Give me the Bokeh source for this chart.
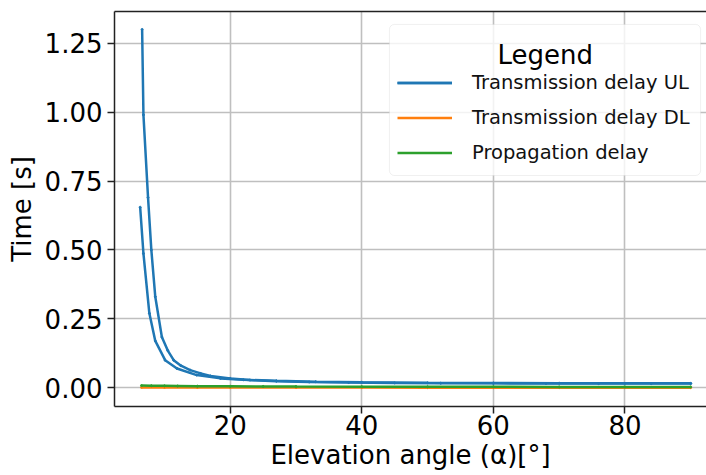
from bokeh.plotting import figure
from bokeh.models import (Range1d, FixedTicker, LinearAxis, Label, Legend,
                          LegendItem, NumeralTickFormatter, BoxAnnotation)
from bokeh.embed import file_html
from bokeh.resources import INLINE

# ---- data ----
ul_x_a = [6.6, 6.8, 7.5, 8.0, 8.6, 9.6, 10.5, 11.4, 12.5, 13.9, 15.5, 17.0, 20.0,
          23.0, 27.0, 32.0, 38.0, 45.0, 52.0, 60.0, 68.0, 76.0, 84.0, 90.0]
ul_y_a = [1.30, 0.99, 0.69, 0.50, 0.33, 0.184, 0.135, 0.10, 0.080, 0.064, 0.052,
          0.043, 0.034, 0.028, 0.024, 0.021, 0.019, 0.0175, 0.0165, 0.016, 0.0155,
          0.015, 0.015, 0.015]
ul_x_b = [6.3, 6.8, 7.7, 8.6, 10.1, 11.9, 14.9, 18.5, 22.0, 27.0, 33.0, 40.0,
          50.0, 60.0, 70.0, 80.0, 90.0]
ul_y_b = [0.655, 0.487, 0.27, 0.17, 0.10, 0.07, 0.046, 0.034, 0.029, 0.025, 0.022,
          0.020, 0.018, 0.017, 0.0165, 0.016, 0.016]
dl_x = [6.5, 10.0, 15.0, 20.0, 30.0, 40.0, 50.0, 60.0, 70.0, 80.0, 90.0]
dl_y = [0.0012, 0.001, 0.0008, 0.0007, 0.0006, 0.0005, 0.0004, 0.0004, 0.0003,
        0.0003, 0.0003]
pr_x = [6.5, 8.0, 10.0, 12.0, 15.0, 20.0, 25.0, 30.0, 40.0, 50.0, 60.0, 70.0,
        80.0, 90.0]
pr_y = [0.0078, 0.0074, 0.0069, 0.0064, 0.0058, 0.0052, 0.0047, 0.0043, 0.0038,
        0.0035, 0.0033, 0.0031, 0.0030, 0.0030]
x_ticks = [20, 40, 60, 80]
y_ticks = [0.0, 0.25, 0.5, 0.75, 1.0, 1.25]
series_labels = ["Transmission delay UL", "Transmission delay DL", "Propagation delay"]
legend_title = "Legend"

BLUE, ORANGE, GREEN = "#1f77b4", "#ff7f0e", "#2ca02c"
FONT = "DejaVu Sans"

p = figure(width=706, height=475, output_backend="svg", toolbar_location=None,
           x_range=Range1d(2.4, 92.4), y_range=Range1d(-0.068, 1.365),
           min_border_left=114, min_border_right=0, min_border_top=11,
           min_border_bottom=69)
p.outline_line_color = None
p.background_fill_color = "white"

lw = 2.5
r_a = p.line(ul_x_a, ul_y_a, line_color=BLUE, line_width=lw)
r_b = p.line(ul_x_b, ul_y_b, line_color=BLUE, line_width=lw)
p.scatter(ul_x_a, ul_y_a, size=2, color=BLUE)
p.scatter(ul_x_b, ul_y_b, size=2, color=BLUE)
r_dl = p.line(dl_x, dl_y, line_color=ORANGE, line_width=lw)
p.scatter(dl_x, dl_y, size=2, color=ORANGE)
r_pr = p.line(pr_x, pr_y, line_color=GREEN, line_width=lw)
p.scatter(pr_x, pr_y, size=2, color=GREEN)

# axes
for ax in (p.xaxis[0], p.yaxis[0]):
    ax.axis_line_color = "#222222"
    ax.axis_line_width = 1.5
    ax.major_tick_line_color = "#222222"
    ax.major_tick_line_width = 1.5
    ax.major_tick_out = 7
    ax.major_tick_in = 0
    ax.minor_tick_line_color = None
    ax.major_label_text_font = FONT
    ax.major_label_text_font_size = "26px"
    ax.major_label_text_color = "black"
    ax.axis_label_text_font = FONT
    ax.axis_label_text_font_size = "26px"
    ax.axis_label_text_font_style = "normal"
    ax.axis_label_text_color = "black"

p.xaxis[0].ticker = FixedTicker(ticks=x_ticks)
p.xaxis[0].axis_label = "Elevation angle (α)[°]"
p.xaxis[0].major_label_standoff = 1
p.xaxis[0].axis_label_standoff = 2

p.yaxis[0].ticker = FixedTicker(ticks=y_ticks)
p.yaxis[0].formatter = NumeralTickFormatter(format="0.00")
p.yaxis[0].axis_label = "Time [s]"
p.yaxis[0].major_label_standoff = 5
p.yaxis[0].axis_label_standoff = 5

top = LinearAxis(ticker=FixedTicker(ticks=[]), major_label_text_font_size="0px",
                 major_tick_line_color=None, minor_tick_line_color=None,
                 axis_line_color="#222222", axis_line_width=1.5)
p.add_layout(top, "above")

for g in (p.xgrid[0], p.ygrid[0]):
    g.grid_line_color = "#bfbfbf"
    g.grid_line_width = 1.6
p.xgrid[0].ticker = FixedTicker(ticks=x_ticks)
p.ygrid[0].ticker = FixedTicker(ticks=y_ticks)

# legend frame (drawn as a box so the centred title can sit on top of it)
p.add_layout(BoxAnnotation(left=44.2, right=91.5, top=1.318, bottom=0.770,
                           fill_color="white", fill_alpha=0.8,
                           line_color="#cccccc", line_width=1,
                           border_radius=5))

legend = Legend(items=[
    LegendItem(label=series_labels[0], renderers=[r_a, r_b]),
    LegendItem(label=series_labels[1], renderers=[r_dl]),
    LegendItem(label=series_labels[2], renderers=[r_pr]),
], location=(283, 242))
legend.title = " "
legend.title_text_font_size = "26px"
legend.title_text_font = FONT
legend.title_standoff = 8
legend.label_text_font = FONT
legend.label_text_font_size = "19.5px"
legend.label_text_color = "#111111"
legend.glyph_width = 55
legend.glyph_height = 23
legend.label_height = 23
legend.label_standoff = 20
legend.spacing = 12
legend.padding = 10
legend.margin = 0
legend.border_line_color = None
legend.background_fill_alpha = 0
p.add_layout(legend)

p.add_layout(Label(x=67.87, y=1.206, text=legend_title, text_align="center",
                   text_baseline="alphabetic", text_font=FONT,
                   text_font_size="26px", text_color="black"))

open("out.html", "w").write(file_html(p, INLINE))
